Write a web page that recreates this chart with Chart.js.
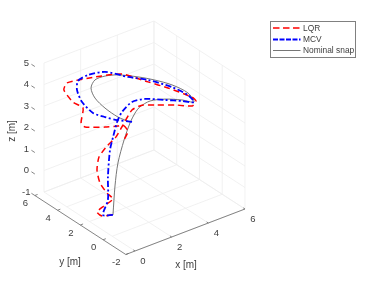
<!DOCTYPE html>
<html>
<head>
<meta charset="utf-8">
<style>html,body{margin:0;padding:0;background:#fff}canvas{display:block}</style>
<script src="https://cdn.jsdelivr.net/npm/chart.js@4"></script>
</head>
<body>
<canvas id="c" width="382" height="286"></canvas>
<script>
const xTicks = [0, 2, 4, 6];
const yTicks = [-2, 0, 2, 4, 6];
const zTicks = [-1, 0, 1, 2, 3, 4, 5];

const seriesNames = ['LQR', 'MCV', 'Nominal snap'];

const lqrX = [0,0,-0.03,0.17,0.35,0.33,0.2,0.16,0.27,0.58,0.95,1.33,1.82,2.43,3.2,4.42,5.47,5.81,5.78,4.72,3.81,2.64,1.42,0.14,-0.03,0.28,0.64,0.41,0.5,1.34,1.8,1.95,2.1,1.82];
const lqrY = [0,0.9,1.3,1,0.5,1,1.4,1.6,1.6,1.4,1.2,1.2,1.2,1.3,1.4,1.6,1.8,2,2.3,2.7,3,3.4,3.8,4.2,4.2,3.9,3.6,3.4,3.2,2.8,2.4,2.2,2,1.9];
const lqrZ = [0,-0.37,-0.31,0.01,0.45,0.56,0.93,1.48,2.05,2.52,2.9,3.33,3.87,3.86,3.58,3.12,2.66,2.71,2.8,3.43,3.91,4.52,4.64,4.65,4.37,3.81,3.52,2.97,2.82,2.68,2.72,2.78,2.52,2.23];

const mcvX = [0.04,-0.01,0.26,0.26,0.31,0.48,0.76,1.15,1.82,2.66,3.87,4.92,5.7,5.68,5,3.81,2.91,1.84,1.04,0.49,0.31,0.4,0.81,1.28,1.75,2.37];
const mcvY = [0,0.8,0.8,0.8,0.7,0.7,0.8,1,1.2,1.4,1.6,1.8,2,2.5,2.8,3,3.3,3.6,3.8,3.8,3.6,3.3,3,2.7,2.4,2];
const mcvZ = [-0.02,-0.28,0.33,1.4,2.67,3.22,3.79,4.06,4.24,4.04,3.53,3.07,2.7,2.86,3.35,4,4.33,4.81,4.86,4.76,4.47,3.98,3.44,3.2,3.01,2.86];

const nomX = [0.04,0.15,0.31,0.77,1.28,1.74,2.13,2.87,3.87,4.92,5.7,5.68,5,4.19,3.39,2.42,1.78,1.23,0.89,0.92,1.28,1.74,2.21];
const nomY = [0,0,0,0.2,0.5,0.8,1,1.3,1.6,1.8,2,2.5,2.8,3,3.2,3.4,3.5,3.5,3.3,3,2.7,2.3,2];
const nomZ = [-0.02,1.29,2.3,3.16,3.68,3.89,3.98,3.91,3.57,3.12,2.7,2.96,3.45,3.87,4.21,4.55,4.67,4.67,4.47,4.1,3.62,3.19,2.91];

// view: orthographic projection of metres on to the page plane
const view = { ox:112.25, oy:214.75, xu:18.33, xv:-7, yu:-11.375, yv:-7.375, zv:-21.5 };
const proj = (x,y,z) => ({ x: view.ox + view.xu*x + view.yu*y, y: view.oy + view.xv*x + view.yv*y + view.zv*z });
const path = (xs,ys,zs) => xs.map((v,i) => proj(v, ys[i], zs[i]));

const line = (data, color, width, dash, order, tension) => ({
  data, borderColor: color, borderWidth: width, borderDash: dash || [], order,
  showLine: true, pointRadius: 0, pointHoverRadius: 0, tension: tension || 0, fill: false
});

const xMin = xTicks[0], xMax = xTicks[xTicks.length-1];
const yMin = yTicks[0], yMax = yTicks[yTicks.length-1];
const zMin = zTicks[0], zMax = zTicks[zTicks.length-1];
const gridCol = '#ededed', axisCol = '#666666';
const datasets = [
  line(path(lqrX,lqrY,lqrZ), '#ff0000', 1.5, [6,4], 1, 0.2),
  line(path(mcvX,mcvY,mcvZ), '#0000ff', 1.8, [6,2.5,2,2.5], 0, 0.25),
  line(path(nomX,nomY,nomZ), '#666666', 0.9, [], 2, 0.3)
];
const seg = (a,b,c,w,o) => datasets.push(line([proj(...a),proj(...b)], c, w, [], o));
xTicks.forEach(x => {
  seg([x,yMin,zMin],[x,yMax,zMin],gridCol,0.8,6);
  seg([x,yMax,zMin],[x,yMax,zMax],gridCol,0.8,6);
});
yTicks.forEach(y => {
  seg([xMin,y,zMin],[xMax,y,zMin],gridCol,0.8,6);
  seg([xMax,y,zMin],[xMax,y,zMax],gridCol,0.8,6);
});
zTicks.forEach(z => {
  seg([xMin,yMax,z],[xMax,yMax,z],gridCol,0.8,6);
  seg([xMax,yMax,z],[xMax,yMin,z],gridCol,0.8,6);
});
const rule = xMin - 0.5;
seg([rule,yMin,zMin],[rule,yMax,zMin],axisCol,0.8,5);
seg([rule,yMin,zMin],[xMax,yMin,zMin],axisCol,0.8,5);
xTicks.forEach(x => seg([x,yMin,zMin],[x,yMin+0.15,zMin],axisCol,0.8,5));
yTicks.forEach(y => seg([rule,y,zMin],[rule+0.15,y,zMin],axisCol,0.8,5));
zTicks.forEach(z => seg([rule,yMax,z],[rule,yMax+0.3,z],axisCol,0.8,5));

const textPlugin = {
  id: 'textPlugin',
  afterDatasetsDraw(chart) {
    const c = chart.ctx, sx = chart.scales.x, sy = chart.scales.y;
    const at = (p,dx,dy) => [sx.getPixelForValue(p.x)+dx, sy.getPixelForValue(p.y)+dy];
    c.save();
    c.fillStyle = '#404040';
    c.font = '9.5px "Liberation Sans"';
    c.textAlign = 'center'; c.textBaseline = 'middle';
    xTicks.forEach(t => { const [a,b] = at(proj(t,yMin,zMin),8,10.5); c.fillText(String(t),a,b); });
    yTicks.forEach(t => { const [a,b] = at(proj(rule,t,zMin),-9.5,8); c.fillText(String(t),a,b); });
    zTicks.forEach(t => { const [a,b] = at(proj(rule,yMax,t),-8.5,-3.5); c.fillText(String(t),a,b); });
    c.font = '10px "Liberation Sans"';
    c.fillText('x [m]', sx.getPixelForValue(186), sy.getPixelForValue(265));
    c.fillText('y [m]', sx.getPixelForValue(70), sy.getPixelForValue(262));
    c.save();
    c.translate(sx.getPixelForValue(12), sy.getPixelForValue(131));
    c.rotate(-Math.PI/2);
    c.fillText('z [m]', 0, 0);
    c.restore();
    // legend box
    c.fillStyle = '#fff'; c.strokeStyle = '#808080'; c.lineWidth = 1;
    c.fillRect(270.5,21.5,85,36); c.strokeRect(270.5,21.5,85,36);
    c.textAlign = 'left';
    c.font = '8.4px "Liberation Sans"';
    const rows = [28, 39.5, 50.5];
    seriesNames.forEach((n,i) => {
      const ds = chart.data.datasets[i];
      c.save();
      c.strokeStyle = ds.borderColor;
      c.lineWidth = ds.borderWidth;
      c.setLineDash(i === 0 ? [6.5,3.5] : i === 1 ? [5,1.5] : []);
      c.beginPath(); c.moveTo(273,rows[i]); c.lineTo(300.5,rows[i]); c.stroke();
      c.restore();
      c.fillStyle = '#404040';
      c.fillText(n, 303, rows[i]+0.5);
    });
    c.restore();
  }
};

new Chart(document.getElementById('c'), {
  type: 'scatter',
  data: { datasets },
  plugins: [textPlugin],
  options: {
    responsive: false, animation: false, events: [],
    layout: { padding: 0 },
    plugins: { legend: { display: false }, tooltip: { enabled: false } },
    scales: {
      x: { type: 'linear', min: 0, max: 382, display: false },
      y: { type: 'linear', min: 0, max: 286, reverse: true, display: false }
    }
  }
});
</script>
</body>
</html>
